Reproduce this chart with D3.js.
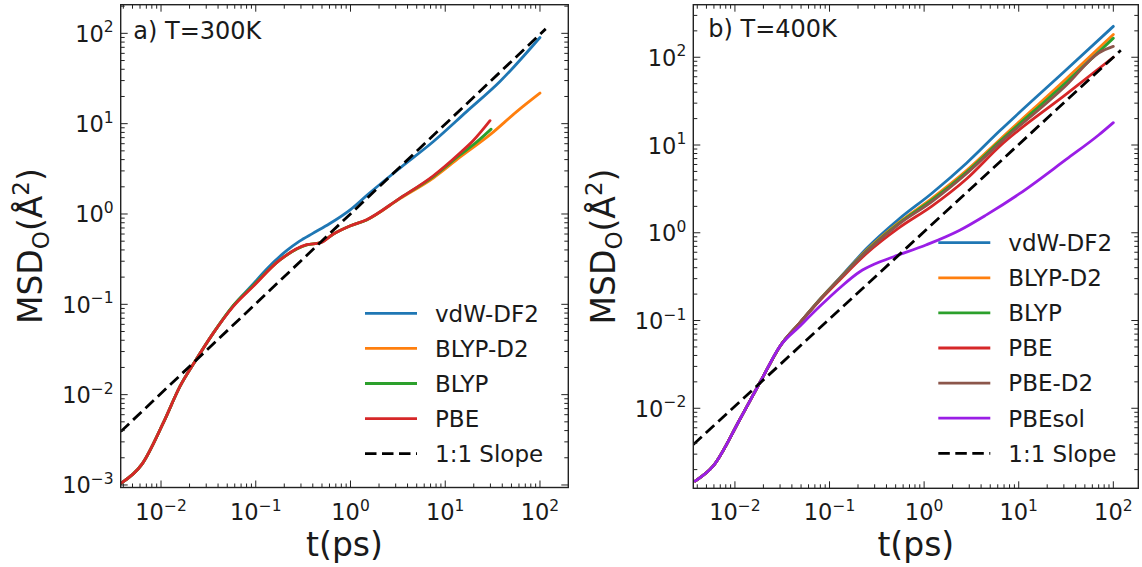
<!DOCTYPE html>
<html><head><meta charset="utf-8">
<script src="https://cdn.jsdelivr.net/npm/d3@7"></script>
<style>
body{margin:0;background:#fff}
text{font-family:"DejaVu Sans",sans-serif;fill:#1a1a1a}
</style>
</head><body>
<svg id="c" width="1142" height="567" xmlns="http://www.w3.org/2000/svg"></svg>
<script>
// ---------------- DATA ----------------
// Panel a) T=300K
const a_names = ["vdW-DF2", "BLYP-D2", "BLYP", "PBE"];
const a_vdw_t = [0.0038,0.0063,0.0106,0.0159,0.0229,0.0356,0.058,0.094,0.13,0.21,0.29,0.4,0.6,1.0,1.5,3.3,7.5,16.8,37.8,100];
const a_vdw_v = [0.00105,0.0017,0.0049,0.0124,0.0234,0.048,0.097,0.168,0.245,0.39,0.5,0.61,0.78,1.12,1.62,3.2,6.35,13.6,29.3,90];
const a_blypd2_t = [0.0038,0.0063,0.0106,0.0159,0.0229,0.0356,0.058,0.094,0.18,0.345,0.477,0.66,1.0,1.48,3.33,7.48,14.3,30,56.8,100];
const a_blypd2_v = [0.00105,0.0017,0.0049,0.0124,0.0234,0.048,0.096,0.16,0.31,0.455,0.48,0.6,0.74,0.86,1.48,2.5,4.25,7.6,13.6,21.8];
const a_blyp_t = [0.0038,0.0063,0.0106,0.0159,0.0229,0.0356,0.058,0.094,0.18,0.345,0.477,0.66,1.0,1.48,3.33,7.48,14.3,22,30.5];
const a_blyp_v = [0.00105,0.0017,0.0049,0.0124,0.0234,0.048,0.097,0.162,0.31,0.455,0.48,0.6,0.74,0.86,1.5,2.6,4.5,6.4,8.7];
const a_pbe_t = [0.0038,0.0063,0.0106,0.0159,0.0229,0.0356,0.058,0.094,0.18,0.345,0.477,0.66,1.0,1.48,3.33,7.48,14.3,20,29.7];
const a_pbe_v = [0.00105,0.0017,0.0049,0.0124,0.0234,0.048,0.095,0.158,0.31,0.457,0.478,0.6,0.74,0.865,1.5,2.65,4.73,6.6,10.8];
const a_slope_t = [0.00376, 115];
const a_slope_v = [0.0039, 112];

// Panel b) T=400K
const b_names = ["vdW-DF2", "BLYP-D2", "BLYP", "PBE", "PBE-D2", "PBEsol"];
const b_vdw_t = [0.0038,0.0059,0.0113,0.019,0.030,0.0485,0.08,0.128,0.246,0.55,1.2,2.8,6.3,31.8,100];
const b_vdw_v = [0.00148,0.0022,0.0075,0.021,0.051,0.094,0.177,0.305,0.66,1.45,2.8,6.2,14.5,72,225];
const b_blypd2_t = [0.0038,0.0059,0.0113,0.019,0.030,0.0485,0.08,0.128,0.246,0.55,1.2,2.8,6.3,31.8,100];
const b_blypd2_v = [0.00148,0.0022,0.0075,0.021,0.051,0.094,0.176,0.302,0.63,1.33,2.45,5.1,11.5,57,182];
const b_blyp_t = [0.0038,0.0059,0.0113,0.019,0.030,0.0485,0.08,0.128,0.246,0.55,1.2,2.8,6.3,31.8,100];
const b_blyp_v = [0.00148,0.0022,0.0075,0.021,0.051,0.094,0.175,0.30,0.62,1.3,2.35,4.9,11,52,165];
const b_pbe_t = [0.0038,0.0059,0.0113,0.019,0.030,0.0485,0.08,0.128,0.246,0.55,1.2,2.8,6.3,31.8,100];
const b_pbe_v = [0.00148,0.0022,0.0075,0.021,0.051,0.094,0.172,0.29,0.58,1.15,2.0,4.1,9.7,38,100];
const b_pbed2_t = [0.0038,0.0059,0.0113,0.019,0.030,0.0485,0.08,0.128,0.246,0.55,1.2,2.8,6.3,31.8,70,100];
const b_pbed2_v = [0.00148,0.0022,0.0075,0.021,0.051,0.094,0.175,0.30,0.61,1.27,2.25,4.7,10.5,48,112,133];
const b_pbesol_t = [0.0038,0.0059,0.0113,0.019,0.030,0.0485,0.079,0.128,0.209,0.3,0.47,1.06,2.38,4.55,10,32,70,100];
const b_pbesol_v = [0.00148,0.0022,0.0075,0.021,0.051,0.086,0.145,0.235,0.36,0.44,0.53,0.73,1.07,1.6,2.75,6.9,13,18];
const b_slope_t = [0.00363, 120];
const b_slope_v = [0.00386, 120];

const colors = {"vdW-DF2":"#1f77b4","BLYP-D2":"#ff7f0e","BLYP":"#2ca02c","PBE":"#d62728","PBE-D2":"#8c564b","PBEsol":"#9a1ee6"};

// ---------------- DRAW ----------------
const svg = d3.select("#c");
svg.append("rect").attr("width",1142).attr("height",567).attr("fill","#fff");

function zipPts(t, v){ return t.map((d,i)=>[d, v[i]]); }

function supText(sel, e, small, dy){
  sel.append("tspan").text("10");
  sel.append("tspan").attr("font-size", small).attr("dy", -dy).text(e < 0 ? "\u2212" + (-e) : String(e));
}

const LW = 2.8, DASH = "11.5,5.5";

function panel(opt){
  const {x0,x1,y0,y1,xd,yd,series,slope,title,titleX,titleY,legX,legY,id,ylabX} = opt;
  const xs = d3.scaleLog().domain(xd).range([x0,x1]);
  const ys = d3.scaleLog().domain(yd).range([y1,y0]);
  const g = svg.append("g");
  g.append("clipPath").attr("id", id).append("rect").attr("x",x0).attr("y",y0).attr("width",x1-x0).attr("height",y1-y0);

  const line = d3.line().x(d=>xs(d[0])).y(d=>ys(d[1])).curve(d3.curveMonotoneX);
  const plot = g.append("g").attr("clip-path", `url(#${id})`);
  series.forEach(s=>{
    plot.append("path").attr("d", line(s.pts)).attr("fill","none")
      .attr("stroke", colors[s.name]).attr("stroke-width",LW).attr("stroke-linejoin","round").attr("stroke-linecap","round");
  });
  plot.append("path").attr("d", d3.line().x(d=>xs(d[0])).y(d=>ys(d[1]))(slope)).attr("fill","none")
    .attr("stroke","#000").attr("stroke-width",LW).attr("stroke-dasharray",DASH);

  // ticks
  const tk = g.append("g").attr("stroke","#222").attr("stroke-width",1);
  const xlo = Math.log10(xd[0]), xhi = Math.log10(xd[1]);
  const ylo = Math.log10(yd[0]), yhi = Math.log10(yd[1]);
  for (let e = Math.floor(xlo); e <= Math.ceil(xhi); e++){
    for (let k = 1; k <= 9; k++){
      const v = k * Math.pow(10, e);
      if (v < xd[0] || v > xd[1]) continue;
      const L = k === 1 ? 7 : 4;
      const px = xs(v);
      tk.append("line").attr("x1",px).attr("x2",px).attr("y1",y1).attr("y2",y1-L);
      tk.append("line").attr("x1",px).attr("x2",px).attr("y1",y0).attr("y2",y0+L);
      if (k === 1){
        const t = g.append("text").attr("x",px).attr("y",520).attr("text-anchor","middle").attr("font-size",22.5);
        supText(t, e, 15.5, 9.5);
      }
    }
  }
  for (let e = Math.floor(ylo); e <= Math.ceil(yhi); e++){
    for (let k = 1; k <= 9; k++){
      const v = k * Math.pow(10, e);
      if (v < yd[0]*0.999 || v > yd[1]) continue;
      const L = k === 1 ? 7 : 4;
      const py = ys(v);
      tk.append("line").attr("x1",x0).attr("x2",x0+L).attr("y1",py).attr("y2",py);
      tk.append("line").attr("x1",x1).attr("x2",x1-L).attr("y1",py).attr("y2",py);
      if (k === 1){
        const t = g.append("text").attr("x",x0-7).attr("y",py+8.5).attr("text-anchor","end").attr("font-size",22.5);
        supText(t, e, 15.5, 9.5);
      }
    }
  }
  g.append("rect").attr("x",x0).attr("y",y0).attr("width",x1-x0).attr("height",y1-y0)
    .attr("fill","none").attr("stroke","#222").attr("stroke-width",1.4);

  // title
  g.append("text").attr("x",titleX).attr("y",titleY).attr("font-size",24).text(title);

  // axis labels
  g.append("text").attr("x",(x0+x1)/2).attr("y",556).attr("text-anchor","middle").attr("font-size",33).text("t(ps)");
  const yl = g.append("text").attr("transform",`translate(${ylabX},${(y0+y1)/2}) rotate(-90)`)
    .attr("text-anchor","middle").attr("font-size",33);
  yl.append("tspan").text("MSD");
  yl.append("tspan").attr("font-size",23).attr("dy",7).text("O");
  yl.append("tspan").attr("dy",-7).text("(Å");
  yl.append("tspan").attr("font-size",23).attr("dy",-13).text("2");
  yl.append("tspan").attr("dy",13).text(")");

  // legend
  const items = series.map(s=>({name:s.name, dash:false})).concat([{name:"1:1 Slope", dash:true}]);
  items.forEach((it,i)=>{
    const yy = legY + i*35.1;
    g.append("line").attr("x1",legX).attr("x2",legX+52).attr("y1",yy).attr("y2",yy)
      .attr("stroke", it.dash ? "#000" : colors[it.name]).attr("stroke-width",LW)
      .attr("stroke-dasharray", it.dash ? DASH : null);
    g.append("text").attr("x",legX+70).attr("y",yy+8.3).attr("font-size",23).text(it.name);
  });
}

panel({
  id:"clipA", x0:120.7, x1:568.3, y0:4.7, y1:487.5,
  xd:[Math.pow(10,-2.4256), Math.pow(10,2.299)], yd:[Math.pow(10,-3.028), Math.pow(10,2.317)],
  series:[
    {name:a_names[0], pts:zipPts(a_vdw_t,a_vdw_v)},
    {name:a_names[1], pts:zipPts(a_blypd2_t,a_blypd2_v)},
    {name:a_names[2], pts:zipPts(a_blyp_t,a_blyp_v)},
    {name:a_names[3], pts:zipPts(a_pbe_t,a_pbe_v)}
  ],
  slope: zipPts(a_slope_t,a_slope_v),
  title:"a) T=300K", titleX:133.3, titleY:39.3, legX:365, legY:313.3, ylabX:42
});

panel({
  id:"clipB", x0:693.3, x1:1138.3, y0:4.7, y1:488.3,
  xd:[Math.pow(10,-2.440), Math.pow(10,2.264)], yd:[Math.pow(10,-2.912), Math.pow(10,2.599)],
  series:[
    {name:b_names[0], pts:zipPts(b_vdw_t,b_vdw_v)},
    {name:b_names[1], pts:zipPts(b_blypd2_t,b_blypd2_v)},
    {name:b_names[2], pts:zipPts(b_blyp_t,b_blyp_v)},
    {name:b_names[3], pts:zipPts(b_pbe_t,b_pbe_v)},
    {name:b_names[4], pts:zipPts(b_pbed2_t,b_pbed2_v)},
    {name:b_names[5], pts:zipPts(b_pbesol_t,b_pbesol_v)}
  ],
  slope: zipPts(b_slope_t,b_slope_v),
  title:"b) T=400K", titleX:708.3, titleY:37.3, legX:938.3, legY:242.7, ylabX:614.6
});
</script>
</body></html>
